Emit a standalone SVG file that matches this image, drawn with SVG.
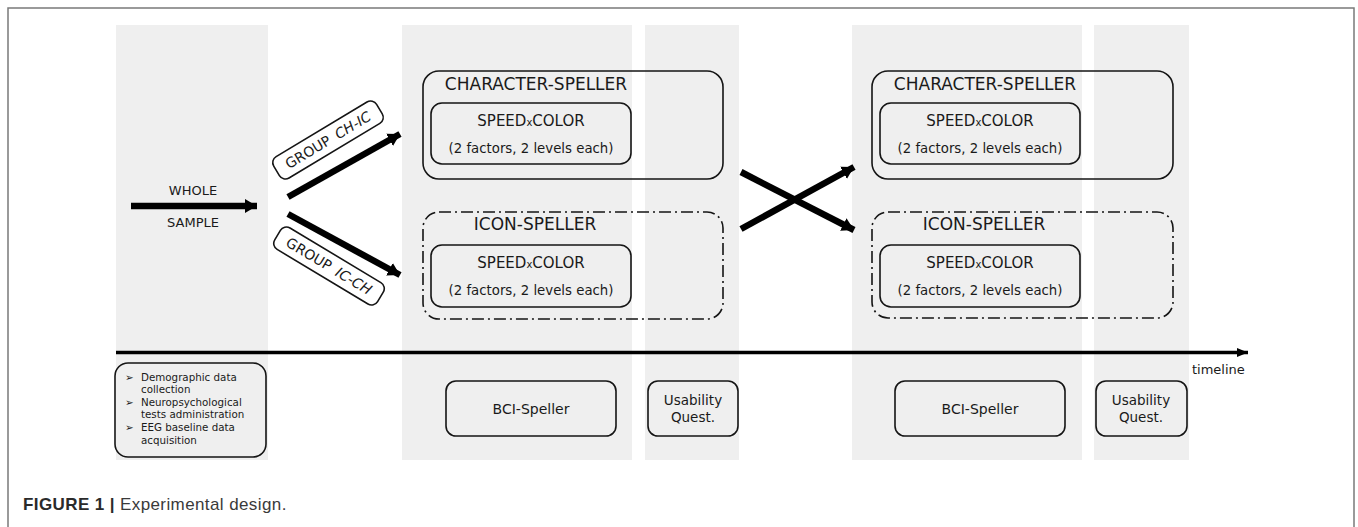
<svg xmlns="http://www.w3.org/2000/svg" width="1358" height="527" viewBox="0 0 1358 527">
<style>
.panel{fill:#efefef}
.box{fill:none;stroke:#151515;stroke-width:1.6}
.dd{fill:none;stroke:#151515;stroke-width:1.6;stroke-dasharray:12 4 2 4}
.t{font-family:"DejaVu Sans",Verdana,sans-serif;fill:#1a1a1a}
.arr{stroke:#000;stroke-width:6.5;fill:none}
.cap{font-family:"Liberation Sans",Arial,sans-serif;font-size:17px;letter-spacing:0.4px;fill:#3a3a3a}
</style>
<defs>
<marker id="head" markerUnits="userSpaceOnUse" markerWidth="14" markerHeight="16" refX="12" refY="7" orient="auto" viewBox="0 0 14 14">
<path d="M0,0 L12,7 L0,14 Z" fill="#000"/>
</marker>
<marker id="thead" markerUnits="userSpaceOnUse" markerWidth="12" markerHeight="10" refX="11" refY="5" orient="auto" viewBox="0 0 12 10">
<path d="M0,0.5 L11,5 L0,9.5 Z" fill="#000"/>
</marker>
</defs>
<rect x="0" y="0" width="1358" height="527" fill="#fff"/>
<path d="M8,527 V8 H1354 V527" fill="none" stroke="#7a7a7a" stroke-width="1.5"/>
<g id="panels">
<rect class="panel" x="116" y="25" width="152" height="435"/>
<rect class="panel" x="402" y="25" width="230" height="435"/>
<rect class="panel" x="645" y="25" width="94" height="435"/>
<rect class="panel" x="852" y="25" width="230" height="435"/>
<rect class="panel" x="1094" y="25" width="95" height="435"/>
</g>
<g id="connectors">
<line class="arr" x1="131" y1="206" x2="257" y2="206" marker-end="url(#head)"/>
<line class="arr" x1="288" y1="197" x2="400" y2="134" marker-end="url(#head)"/>
<line class="arr" x1="288" y1="214" x2="400" y2="275" marker-end="url(#head)"/>
<line class="arr" x1="741" y1="172" x2="854" y2="230" marker-end="url(#head)"/>
<line class="arr" x1="741" y1="229" x2="854" y2="167" marker-end="url(#head)"/>
<line x1="116" y1="352.5" x2="1248" y2="352.5" stroke="#000" stroke-width="3.5" marker-end="url(#thead)"/>
</g>
<g id="whole-sample">
<text class="t" x="193" y="195" font-size="13" text-anchor="middle">WHOLE</text>
<text class="t" x="193" y="227" font-size="13" text-anchor="middle">SAMPLE</text>
</g>
<g id="group-ch-ic" transform="translate(328,140) rotate(-31)">
<rect x="-60" y="-12.5" width="120" height="25" rx="7" fill="#fff" stroke="#151515" stroke-width="1.6"/>
<text class="t" x="0" y="5" font-size="14" word-spacing="3" text-anchor="middle">GROUP <tspan font-style="italic">CH-IC</tspan></text>
</g>
<g id="group-ic-ch" transform="translate(329,266) rotate(31)">
<rect x="-60" y="-12.5" width="120" height="25" rx="7" fill="#fff" stroke="#151515" stroke-width="1.6"/>
<text class="t" x="0" y="5" font-size="14" word-spacing="3" text-anchor="middle">GROUP <tspan font-style="italic">IC-CH</tspan></text>
</g>
<g id="char-speller-1">
<rect class="box" x="423" y="71" width="300" height="108" rx="16"/>
<text class="t" x="536" y="90" font-size="17" text-anchor="middle">CHARACTER-SPELLER</text>
<rect class="box" x="431" y="103" width="200" height="61" rx="11"/>
<text class="t" x="531" y="126" font-size="15" text-anchor="middle">SPEED<tspan font-size="10">x</tspan>COLOR</text>
<text class="t" x="531" y="153" font-size="13.3" text-anchor="middle">(2 factors, 2 levels each)</text>
</g>
<g id="icon-speller-1">
<rect class="dd" x="423" y="212" width="300" height="107" rx="16"/>
<text class="t" x="535" y="230" font-size="17" text-anchor="middle">ICON-SPELLER</text>
<rect class="box" x="431" y="245" width="200" height="62" rx="11"/>
<text class="t" x="531" y="268" font-size="15" text-anchor="middle">SPEED<tspan font-size="10">x</tspan>COLOR</text>
<text class="t" x="531" y="295" font-size="13.3" text-anchor="middle">(2 factors, 2 levels each)</text>
</g>
<g id="char-speller-2">
<rect class="box" x="872" y="71" width="301" height="108" rx="16"/>
<text class="t" x="985" y="90" font-size="17" text-anchor="middle">CHARACTER-SPELLER</text>
<rect class="box" x="880" y="103" width="200" height="61" rx="11"/>
<text class="t" x="980" y="126" font-size="15" text-anchor="middle">SPEED<tspan font-size="10">x</tspan>COLOR</text>
<text class="t" x="980" y="153" font-size="13.3" text-anchor="middle">(2 factors, 2 levels each)</text>
</g>
<g id="icon-speller-2">
<rect class="dd" x="872" y="212" width="301" height="106" rx="16"/>
<text class="t" x="984" y="230" font-size="17" text-anchor="middle">ICON-SPELLER</text>
<rect class="box" x="880" y="245" width="200" height="62" rx="11"/>
<text class="t" x="980" y="268" font-size="15" text-anchor="middle">SPEED<tspan font-size="10">x</tspan>COLOR</text>
<text class="t" x="980" y="295" font-size="13.3" text-anchor="middle">(2 factors, 2 levels each)</text>
</g>
<g id="timeline-label">
<text class="t" x="1192" y="374" font-size="13">timeline</text>
</g>
<g id="baseline-box">
<rect class="box" x="115" y="363" width="151" height="94" rx="13"/>
<g class="t" font-size="10.3">
<text x="125" y="381">➢</text><text x="141" y="381">Demographic data</text>
<text x="141" y="393">collection</text>
<text x="125" y="406">➢</text><text x="141" y="406">Neuropsychological</text>
<text x="141" y="418">tests administration</text>
<text x="125" y="431">➢</text><text x="141" y="431">EEG baseline data</text>
<text x="141" y="444">acquisition</text>
</g>
</g>
<g id="bci-1">
<rect class="box" x="446" y="381" width="170" height="55" rx="10"/>
<text class="t" x="531" y="414" font-size="14" text-anchor="middle">BCI-Speller</text>
</g>
<g id="usab-1">
<rect class="box" x="648" y="381" width="90" height="55" rx="10"/>
<text class="t" x="693" y="405" font-size="13.5" text-anchor="middle">Usability</text>
<text class="t" x="693" y="422" font-size="13.5" text-anchor="middle">Quest.</text>
</g>
<g id="bci-2">
<rect class="box" x="895" y="381" width="170" height="55" rx="10"/>
<text class="t" x="980" y="414" font-size="14" text-anchor="middle">BCI-Speller</text>
</g>
<g id="usab-2">
<rect class="box" x="1096" y="381" width="91" height="55" rx="10"/>
<text class="t" x="1141" y="405" font-size="13.5" text-anchor="middle">Usability</text>
<text class="t" x="1141" y="422" font-size="13.5" text-anchor="middle">Quest.</text>
</g>
<g id="caption">
<text class="cap" x="23" y="510"><tspan font-weight="bold" fill="#2a2a2a">FIGURE 1 | </tspan>Experimental design.</text>
</g>
</svg>
